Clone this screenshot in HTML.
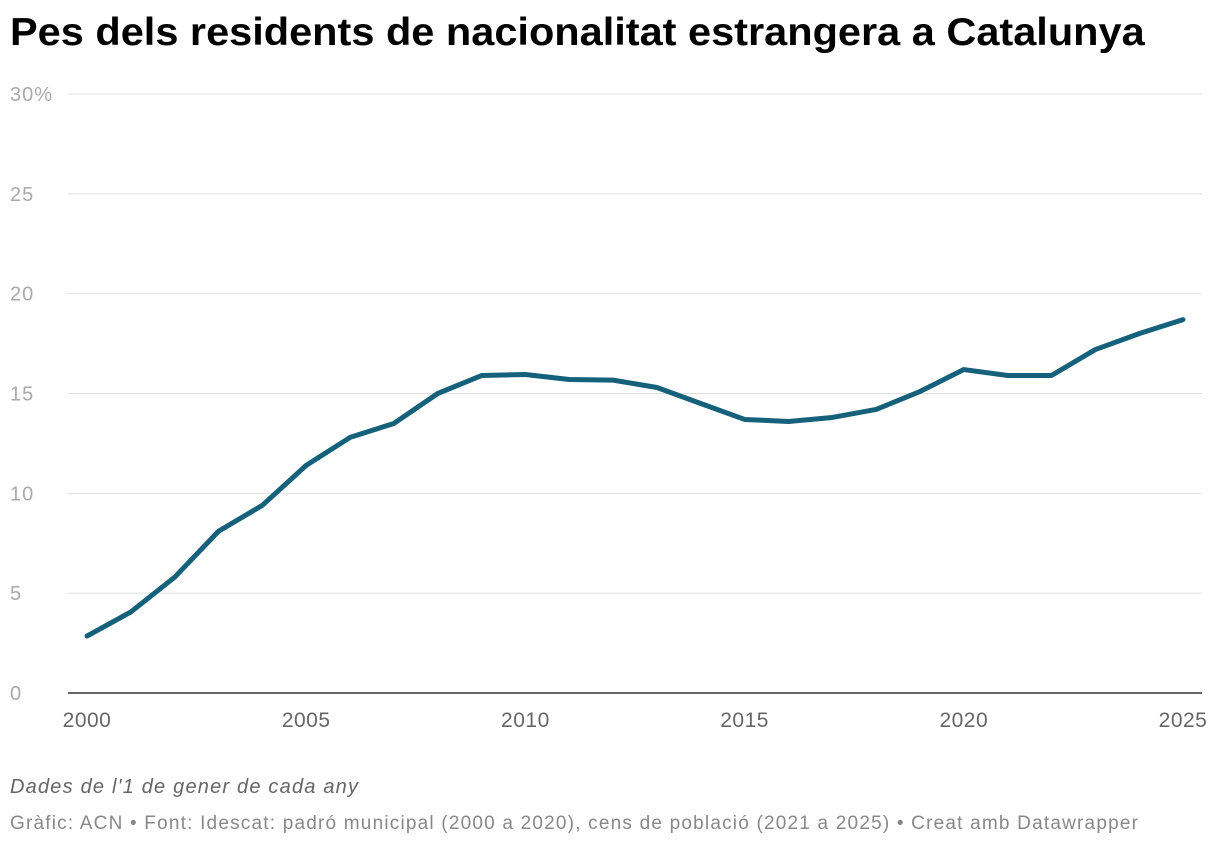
<!DOCTYPE html>
<html><head><meta charset="utf-8">
<style>
body{margin:0;background:#fff;font-family:"Liberation Sans",sans-serif;}
#wrap{position:relative;width:1220px;height:848px;overflow:hidden;}
h1{position:absolute;left:10px;top:11px;margin:0;font-size:39px;font-weight:bold;color:#000;white-space:nowrap;transform:scaleX(1.064);transform-origin:0 0;}
.note{position:absolute;left:10px;top:776px;font-size:20px;font-style:italic;color:#666;letter-spacing:1.2px;}
.foot{position:absolute;left:10px;top:813px;font-size:19px;color:#888;letter-spacing:1.2px;white-space:nowrap;}
</style></head><body>
<div id="wrap">
<h1>Pes dels residents de nacionalitat estrangera a Catalunya</h1>
<svg id="chart" width="1220" height="848" style="position:absolute;left:0;top:0"></svg>
<div class="note">Dades de l'1 de gener de cada any</div>
<div class="foot">Gràfic: ACN • Font: Idescat: padró municipal (2000 a 2020), cens de població (2021 a 2025) • Creat amb Datawrapper</div>
</div>
<script>
const years=[2000,2001,2002,2003,2004,2005,2006,2007,2008,2009,2010,2011,2012,2013,2014,2015,2016,2017,2018,2019,2020,2021,2022,2023,2024,2025];
const values=[2.85,4.06,5.8,8.1,9.4,11.4,12.8,13.5,15.0,15.9,15.95,15.7,15.67,15.3,14.5,13.7,13.6,13.8,14.2,15.1,16.2,15.9,15.9,17.2,18.0,18.7];
const yTicks=[0,5,10,15,20,25,30];
const yTickLabels=["0","5","10","15","20","25","30%"];
const xTicks=[2000,2005,2010,2015,2020,2025];
const NS="http://www.w3.org/2000/svg";
const svg=document.getElementById('chart');
const x=v=>87+(v-2000)*(1183-87)/25;
const y=v=>693-v*(693-94)/30;
function mk(t,a){const e=document.createElementNS(NS,t);for(const k in a)e.setAttribute(k,a[k]);svg.appendChild(e);return e;}
yTicks.forEach((t,i)=>{
 const l=mk('line',{x1:68,x2:1202,y1:y(t),y2:y(t),stroke:t===0?'#333':'#e0e0e0','stroke-width':t===0?1.5:1});
 
 
 const tx=mk('text',{x:10,y:y(t)+7,'font-size':20,'letter-spacing':1,fill:'#aaa','font-family':'Liberation Sans, sans-serif'});
 tx.textContent=yTickLabels[i];
 
 
});
xTicks.forEach(t=>{
 const tx=mk('text',{x:x(t),y:727,'font-size':21,'letter-spacing':0.5,fill:'#666','text-anchor':'middle','font-family':'Liberation Sans, sans-serif'});
 tx.textContent=t;
 
 
});
const p=mk('polyline',{points:years.map((yr,i)=>x(yr)+','+y(values[i])).join(' '),fill:'none',stroke:'#15607a','stroke-width':5,'stroke-linejoin':'round','stroke-linecap':'round'});


</script>
</body></html>
